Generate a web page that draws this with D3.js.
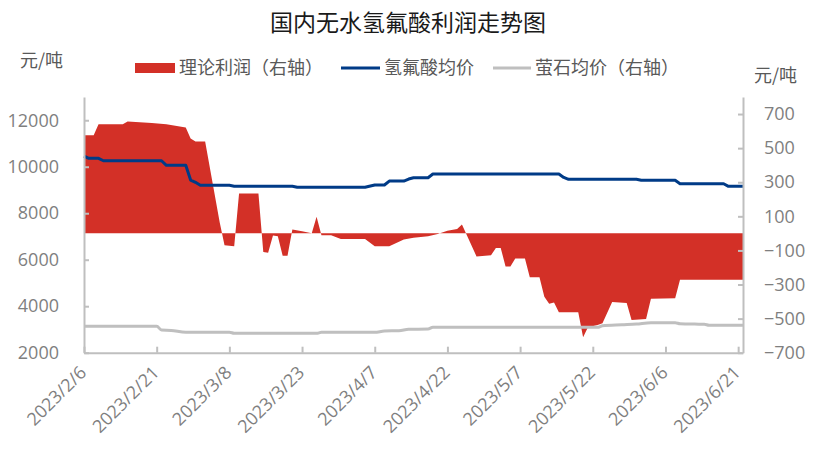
<!DOCTYPE html>
<html><head><meta charset="utf-8">
<script src="https://cdn.jsdelivr.net/npm/d3@7"></script>
<style>
html,body{margin:0;padding:0;background:#fff;}
svg{display:block;}
text{font-family:"Noto Sans CJK SC","Noto Sans",sans-serif;}
</style></head>
<body>
<svg id="chart" width="816" height="461"></svg>
<script>
const title = "国内无水氢氟酸利润走势图";
const unitLabel = "元/吨";
const seriesNames = ["理论利润（右轴）", "氢氟酸均价", "萤石均价（右轴）"];
const xTickLabels = ["2023/2/6","2023/2/21","2023/3/8","2023/3/23","2023/4/7","2023/4/22","2023/5/7","2023/5/22","2023/6/6","2023/6/21"];
const leftTicks = [2000,4000,6000,8000,10000,12000];
const rightTicks = [-700,-500,-300,-100,100,300,500,700];

// 理论利润 (right axis)
const profitData = [
["2023-02-06",576],["2023-02-08",576],["2023-02-09",640],["2023-02-14",640],["2023-02-15",657],
["2023-02-20",647],["2023-02-23",640],["2023-02-27",621],["2023-02-28",556],["2023-03-01",539],
["2023-03-03",539],["2023-03-06",65],["2023-03-07",-70],["2023-03-09",-76],["2023-03-10",234],
["2023-03-14",234],["2023-03-15",-109],["2023-03-16",-113],["2023-03-17",-13],["2023-03-18",-17],
["2023-03-19",-131],["2023-03-20",-131],["2023-03-21",22],["2023-03-23",12],["2023-03-25",0],
["2023-03-26",97],["2023-03-27",-11],["2023-03-29",-11],["2023-03-31",-33],["2023-04-05",-33],
["2023-04-07",-76],["2023-04-10",-76],["2023-04-13",-36],["2023-04-15",-25],["2023-04-18",-17],
["2023-04-20",-3],["2023-04-22",16],["2023-04-24",26],["2023-04-25",52],["2023-04-28",-135],
["2023-05-01",-129],["2023-05-02",-86],["2023-05-03",-86],["2023-05-04",-194],["2023-05-05",-194],
["2023-05-06",-148],["2023-05-08",-148],["2023-05-09",-258],["2023-05-11",-258],["2023-05-12",-372],
["2023-05-13",-413],["2023-05-14",-405],["2023-05-15",-462],["2023-05-19",-462],["2023-05-20",-610],
["2023-05-21",-551],["2023-05-23",-537],["2023-05-24",-527],["2023-05-26",-403],["2023-05-29",-409],
["2023-05-30",-508],["2023-06-02",-502],["2023-06-03",-383],["2023-06-08",-380],["2023-06-09",-272],
["2023-06-22",-272]
];
// 氢氟酸均价 (left axis)
const hfData = [
["2023-02-06",10460],["2023-02-07",10361],["2023-02-09",10361],["2023-02-10",10258],["2023-02-22",10258],
["2023-02-23",10060],["2023-02-27",10060],["2023-02-28",9428],["2023-03-01",9329],["2023-03-02",9200],
["2023-03-08",9200],["2023-03-09",9160],["2023-03-21",9160],["2023-03-22",9114],["2023-04-05",9114],
["2023-04-07",9213],["2023-04-09",9213],["2023-04-10",9385],["2023-04-13",9385],["2023-04-14",9471],
["2023-04-15",9527],["2023-04-18",9527],["2023-04-19",9686],["2023-05-15",9686],["2023-05-16",9540],
["2023-05-17",9458],["2023-05-31",9458],["2023-06-01",9415],["2023-06-08",9415],["2023-06-09",9269],
["2023-06-18",9269],["2023-06-19",9157],["2023-06-22",9157]
];
// 萤石均价
const fluoriteData = [
["2023-02-06",3140],["2023-02-21",3140],["2023-02-22",2976],["2023-02-24",2960],["2023-02-27",2880],
["2023-03-08",2880],["2023-03-09",2834],["2023-03-26",2834],["2023-03-27",2877],["2023-04-07",2877],
["2023-04-09",2933],["2023-04-12",2945],["2023-04-14",3006],["2023-04-18",3019],["2023-04-19",3092],
["2023-05-23",3092],["2023-05-24",3160],["2023-05-28",3204],["2023-05-31",3234],["2023-06-03",3290],
["2023-06-08",3290],["2023-06-09",3247],["2023-06-12",3230],["2023-06-14",3225],["2023-06-15",3178],
["2023-06-22",3178]
];

const parse = d3.timeParse("%Y-%m-%d");
const parseTick = d3.timeParse("%Y/%m/%d");
const prof = profitData.map(d=>({date:parse(d[0]),v:d[1]}));
const hf = hfData.map(d=>({date:parse(d[0]),v:d[1]}));
const fl = fluoriteData.map(d=>({date:parse(d[0]),v:d[1]}));
const tickDates = xTickLabels.map(s=>parseTick(s));

const L=84, R=743, T=97, B=352.7;
const x = d3.scaleTime().domain([parse("2023-02-06"), parse("2023-06-22")]).range([L,R]);
const yL = d3.scaleLinear().domain([2000,13000]).range([B,T]);
const yR = d3.scaleLinear().domain([-700,800]).range([B,T]);

const svg = d3.select("#chart");
const red="#d33027", blue="#003b87", gray="#bfbfbf", axisC="#bfbfbf";

svg.append("path").datum(prof)
  .attr("fill",red)
  .attr("d", d3.area().x(d=>x(d.date)).y0(yR(0)).y1(d=>yR(d.v)));

svg.append("path").datum(fl)
  .attr("fill","none").attr("stroke",gray).attr("stroke-width",3)
  .attr("d", d3.line().x(d=>x(d.date)).y(d=>yL(d.v)).curve(d3.curveMonotoneX));

svg.append("path").datum(hf)
  .attr("fill","none").attr("stroke",blue).attr("stroke-width",3).attr("stroke-linejoin","round")
  .attr("d", d3.line().x(d=>x(d.date)).y(d=>yL(d.v)));

function styleAxis(g){
  g.selectAll(".domain").attr("stroke",axisC).attr("stroke-width",2);
  g.selectAll(".tick line").attr("stroke",axisC).attr("stroke-width",2);
  g.selectAll(".tick text").attr("fill","#7f7f7f").attr("font-size",18)
   .style("font-family",'"Open Sans","Noto Sans",sans-serif');
}
const gl = svg.append("g").attr("transform",`translate(${L},0)`)
  .call(d3.axisLeft(yL).tickValues(leftTicks).tickSizeInner(-5).tickSizeOuter(0).tickPadding(25).tickFormat(d3.format("d")));
styleAxis(gl);
const gr = svg.append("g").attr("transform",`translate(${R},0)`)
  .call(d3.axisRight(yR).tickValues(rightTicks).tickSizeInner(-5).tickSizeOuter(0).tickPadding(21).tickFormat(d3.format("d")));
styleAxis(gr);
const gb = svg.append("g").attr("transform",`translate(0,${B})`)
  .call(d3.axisBottom(x).tickValues(tickDates).tickSizeInner(-6).tickSizeOuter(0).tickFormat((d,i)=>xTickLabels[i]));
styleAxis(gb);
gb.selectAll(".tick text")
  .attr("text-anchor","end").attr("dy",null).attr("y",null)
  .attr("transform","translate(3,21) rotate(-45)");

svg.append("text").attr("x",408).attr("y",31).attr("text-anchor","middle")
  .attr("font-size",23).attr("fill","#1a1a1a").text(title);
svg.append("text").attr("x",20).attr("y",67).attr("font-size",18).attr("fill","#595959").text(unitLabel);
svg.append("text").attr("x",754).attr("y",82).attr("font-size",18).attr("fill","#595959").text(unitLabel);

const lg = svg.append("g");
lg.append("rect").attr("x",135).attr("y",63).attr("width",40).attr("height",10).attr("fill",red);
lg.append("text").attr("x",179).attr("y",74).attr("font-size",18).attr("fill","#595959").text(seriesNames[0]);
lg.append("line").attr("x1",341).attr("x2",380).attr("y1",68).attr("y2",68).attr("stroke",blue).attr("stroke-width",3);
lg.append("text").attr("x",384).attr("y",74).attr("font-size",18).attr("fill","#595959").text(seriesNames[1]);
lg.append("line").attr("x1",493).attr("x2",531).attr("y1",68).attr("y2",68).attr("stroke",gray).attr("stroke-width",3);
lg.append("text").attr("x",535).attr("y",74).attr("font-size",18).attr("fill","#595959").text(seriesNames[2]);
</script>
</body></html>
